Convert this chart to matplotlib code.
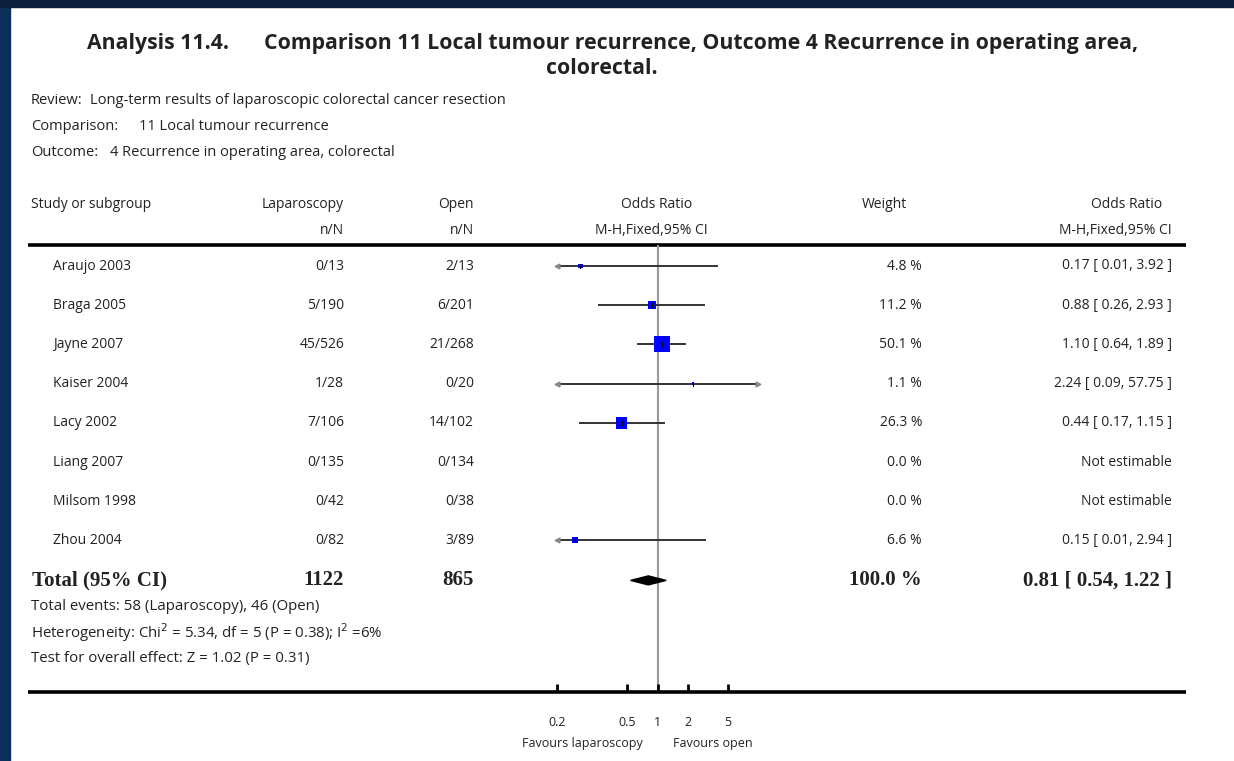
import matplotlib
matplotlib.use("Agg")
import matplotlib.pyplot as plt
from matplotlib.patches import Rectangle

W, H = 1234, 761

# data
studies = ["Araujo 2003", "Braga 2005", "Jayne 2007", "Kaiser 2004", "Lacy 2002",
           "Liang 2007", "Milsom 1998", "Zhou 2004"]
lap = ["0/13", "5/190", "45/526", "1/28", "7/106", "0/135", "0/42", "0/82"]
opn = ["2/13", "6/201", "21/268", "0/20", "14/102", "0/134", "0/38", "3/89"]
weights = [4.8, 11.2, 50.1, 1.1, 26.3, 0.0, 0.0, 6.6]
odds = [0.17, 0.88, 1.10, 2.24, 0.44, None, None, 0.15]
ci_lo = [0.01, 0.26, 0.64, 0.09, 0.17, None, None, 0.01]
ci_hi = [3.92, 2.93, 1.89, 57.75, 1.15, None, None, 2.94]

total_or, total_lo, total_hi = 0.81, 0.54, 1.22
total_lap, total_open, total_weight = 1122, 865, 100.0

tick_vals = [0.1, 0.5, 1, 2, 5]
tick_labels = ["0.2", "0.5", "1", "2", "5"]
xmin, xmax = 0.1, 10

title_a = "Analysis 11.4."
title_b = "Comparison 11 Local tumour recurrence, Outcome 4 Recurrence in operating area,"
title2 = "colorectal."
meta = [("Review:", "Long-term results of laparoscopic colorectal cancer resection", 90),
        ("Comparison:", "11 Local tumour recurrence", 139),
        ("Outcome:", "4 Recurrence in operating area, colorectal", 110)]
footer = ["Total events: 58 (Laparoscopy), 46 (Open)",
          "Heterogeneity: Chi$^2$ = 5.34, df = 5 (P = 0.38); I$^2$ =6%",
          "Test for overall effect: Z = 1.02 (P = 0.31)"]

SANS = "Open Sans"
SERIF = "Liberation Serif"
TXT = "#222222"

fig = plt.figure(figsize=(W / 100, H / 100), dpi=100)
fig.patch.set_facecolor("white")
ax = fig.add_axes([0, 0, 1, 1])
ax.set_xlim(0, W)
ax.set_ylim(H, 0)
ax.axis("off")

# dark slide border
ax.add_patch(Rectangle((0, 0), 10, H, color="#0c2f5c", zorder=5))
ax.add_patch(Rectangle((0, 0), W, 6.5, color="#0b1f3b", zorder=5))

ttl = 15.3
ax.text(87, 44, title_a, ha="left", va="center", fontsize=ttl,
        fontweight="bold", family=SANS, color=TXT)
ax.text(1138, 44, title_b, ha="right", va="center", fontsize=ttl,
        fontweight="bold", family=SANS, color=TXT)
ax.text(602, 69, title2, ha="center", va="center", fontsize=ttl,
        fontweight="bold", family=SANS, color=TXT)

mfs = 10.5
for i, (k, v, vx) in enumerate(meta):
    y = 100 + i * 26.5
    ax.text(31, y, k, ha="left", va="center", fontsize=mfs, family=SANS, color=TXT)
    ax.text(vx, y, v, ha="left", va="center", fontsize=mfs, family=SANS, color=TXT)

# column headers
fs = 10
hy1, hy2 = 205, 231
ax.text(31, hy1, "Study or subgroup", ha="left", va="center", fontsize=fs, family=SANS, color=TXT)
ax.text(344, hy1, "Laparoscopy", ha="right", va="center", fontsize=fs, family=SANS, color=TXT)
ax.text(344, hy2, "n/N", ha="right", va="center", fontsize=fs, family=SANS, color=TXT)
ax.text(474, hy1, "Open", ha="right", va="center", fontsize=fs, family=SANS, color=TXT)
ax.text(474, hy2, "n/N", ha="right", va="center", fontsize=fs, family=SANS, color=TXT)
ax.text(657, hy1, "Odds Ratio", ha="center", va="center", fontsize=fs, family=SANS, color=TXT)
ax.text(651, hy2, "M-H,Fixed,95% CI", ha="center", va="center", fontsize=fs, family=SANS, color=TXT)
ax.text(907, hy1, "Weight", ha="right", va="center", fontsize=fs, family=SANS, color=TXT)
ax.text(1162, hy1, "Odds Ratio", ha="right", va="center", fontsize=fs, family=SANS, color=TXT)
ax.text(1172, hy2, "M-H,Fixed,95% CI", ha="right", va="center", fontsize=fs, family=SANS, color=TXT)

line_top, line_bot = 245, 692
ax.plot([28, 1186], [line_top, line_top], color="black", lw=2.6, solid_capstyle="butt")
ax.plot([28, 1186], [line_bot, line_bot], color="black", lw=2.6, solid_capstyle="butt")

row0, step = 266, 39.2
ys = [row0 + i * step for i in range(len(studies))]
total_y = ys[-1] + 40

for i, y in enumerate(ys):
    ax.text(53, y, studies[i], ha="left", va="center", fontsize=fs, family=SANS, color=TXT)
    ax.text(344, y, lap[i], ha="right", va="center", fontsize=fs, family=SANS, color=TXT)
    ax.text(474, y, opn[i], ha="right", va="center", fontsize=fs, family=SANS, color=TXT)
    ax.text(922, y, "{:.1f} %".format(weights[i]), ha="right", va="center",
            fontsize=fs, family=SANS, color=TXT)
    if odds[i] is None:
        lab = "Not estimable"
    else:
        lab = "{:.2f} [ {:.2f}, {:.2f} ]".format(odds[i], ci_lo[i], ci_hi[i])
    ax.text(1172, y, lab, ha="right", va="center", fontsize=fs, family=SANS, color=TXT)

tfs = 15
ax.text(32, total_y, "Total (95% CI)", ha="left", va="center", fontsize=tfs,
        fontweight="bold", family=SERIF, color=TXT)
ax.text(344, total_y, str(total_lap), ha="right", va="center", fontsize=tfs,
        fontweight="bold", family=SERIF, color=TXT)
ax.text(474, total_y, str(total_open), ha="right", va="center", fontsize=tfs,
        fontweight="bold", family=SERIF, color=TXT)
ax.text(922, total_y, "{:.1f} %".format(total_weight), ha="right", va="center",
        fontsize=tfs, fontweight="bold", family=SERIF, color=TXT)
ax.text(1172, total_y, "{:.2f} [ {:.2f}, {:.2f} ]".format(total_or, total_lo, total_hi),
        ha="right", va="center", fontsize=tfs, fontweight="bold", family=SERIF, color=TXT)

for i, s in enumerate(footer):
    ax.text(31, total_y + 26 + i * 26, s, ha="left", va="center", fontsize=10.8,
            family=SANS, color=TXT)

# forest panel on a log odds-ratio scale
fx0, fx1 = 557, 758
fa = fig.add_axes([fx0 / W, (H - line_bot) / H, (fx1 - fx0) / W, (line_bot - line_top) / H])
fa.patch.set_alpha(0)
fa.set_xscale("log")
fa.set_xlim(xmin, xmax)
fa.set_ylim(line_bot, line_top)
for sp in fa.spines.values():
    sp.set_visible(False)
fa.set_yticks([])
fa.set_xticks(tick_vals)
fa.set_xticklabels(tick_labels, fontsize=9, family=SANS, color=TXT)
fa.xaxis.set_minor_locator(matplotlib.ticker.NullLocator())
fa.tick_params(axis="x", direction="in", length=6, width=2, pad=17, color="black")

fa.axvline(1, color="#999999", lw=1.5, zorder=1)

for i, y in enumerate(ys):
    if odds[i] is None:
        continue
    fa.plot([ci_lo[i], ci_hi[i]], [y, y], color="#333333", lw=1.4, zorder=2)
    if ci_lo[i] < xmin:
        fa.plot([xmin], [y], marker="<", ms=3.5, color="#888888", clip_on=False, zorder=3)
    if ci_hi[i] > xmax:
        fa.plot([xmax], [y], marker=">", ms=3.5, color="#888888", clip_on=False, zorder=3)
    side_pt = 2.26 * weights[i] ** 0.5 * 0.72
    fa.scatter([odds[i]], [y], s=side_pt ** 2, marker="s", color="#0000ff",
               edgecolors="none", zorder=4)
    fa.plot([odds[i], odds[i]], [y - 2, y + 2], color="black", lw=0.8, zorder=5)

fa.fill([total_lo, total_or, total_hi, total_or],
        [total_y, total_y - 4.5, total_y, total_y + 4.5], color="black", zorder=4)

ax.text(643, 744, "Favours laparoscopy", ha="right", va="center", fontsize=9,
        family=SANS, color=TXT)
ax.text(673, 744, "Favours open", ha="left", va="center", fontsize=9,
        family=SANS, color=TXT)

fig.savefig("out.png", dpi=100, facecolor="white")
